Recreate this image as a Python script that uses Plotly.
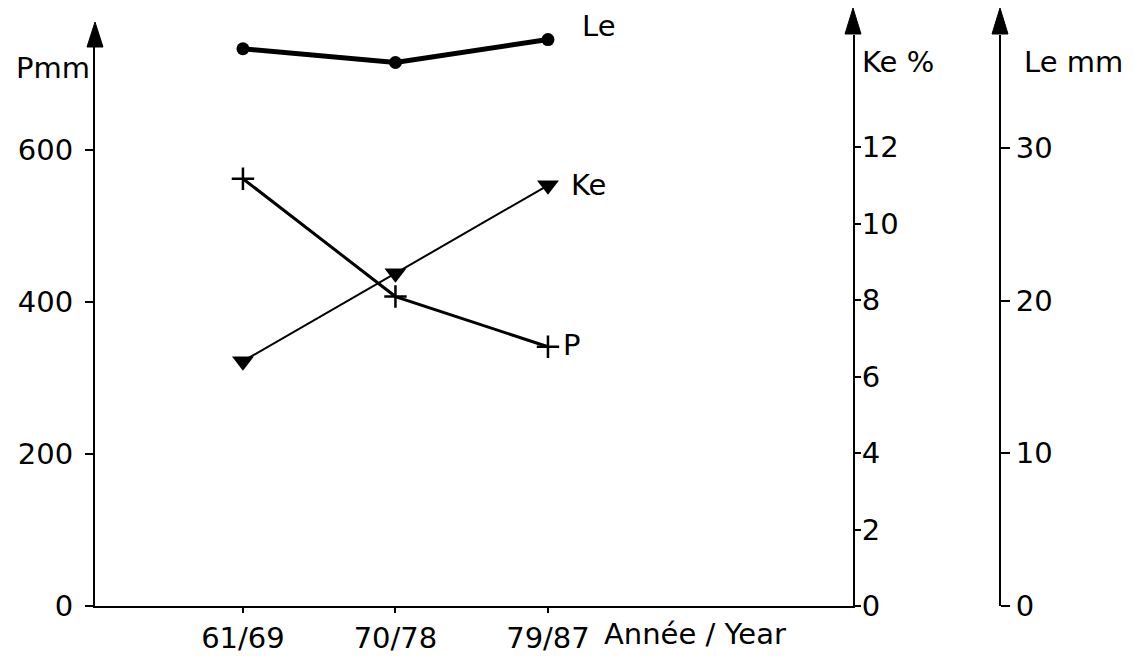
import plotly.graph_objects as go

# ---- data ----
periods = ["61/69", "70/78", "79/87"]
x_pos = [0, 1, 2]
P_mm = [562, 407, 341]
Ke_pct = [6.4, 8.7, 11.0]
Le_mm = [36.5, 35.6, 37.1]

p_ticks = [0, 200, 400, 600]
ke_ticks = [0, 2, 4, 6, 8, 10, 12]
le_ticks = [0, 10, 20, 30]

# ---- layout helpers (pixel -> paper, margins are zero) ----
W, H = 1134, 657
def px(x):
    return x / W
def py(y):
    return 1 - y / H

X_L, X_R, X_LE = 95, 853, 1000
Y_B, Y_T = 606, 35
FONT = dict(family="DejaVu Sans", size=29, color="black")

fig = go.Figure()

fig.add_trace(go.Scatter(
    x=x_pos, y=Le_mm, yaxis="y3", mode="lines+markers",
    line=dict(color="black", width=5),
    marker=dict(symbol="circle", size=13, color="black"),
    cliponaxis=False, showlegend=False))

fig.add_trace(go.Scatter(
    x=x_pos, y=P_mm, yaxis="y", mode="lines+markers",
    line=dict(color="black", width=3),
    marker=dict(symbol="cross-thin", size=16, line=dict(color="black", width=2.5)),
    cliponaxis=False, showlegend=False))

fig.add_trace(go.Scatter(
    x=x_pos, y=Ke_pct, yaxis="y2", mode="lines+markers",
    line=dict(color="black", width=2),
    marker=dict(symbol="triangle-down", size=19, color="black"),
    cliponaxis=False, showlegend=False))

common_y = dict(showgrid=False, zeroline=False, showline=True, linecolor="black",
                linewidth=2, ticks="outside", tickcolor="black", tickwidth=2,
                tickfont=FONT, automargin=False)

fig.update_layout(
    width=W, height=H,
    margin=dict(l=0, r=0, t=0, b=0, autoexpand=False),
    paper_bgcolor="white", plot_bgcolor="white",
    font=FONT,
    xaxis=dict(domain=[px(X_L), px(X_R)], range=[-0.97, 4.0],
               tickvals=x_pos, ticktext=periods, showgrid=False, zeroline=False,
               showline=True, linecolor="black", linewidth=2,
               ticks="outside", ticklen=5, tickwidth=2, tickcolor="black",
               tickfont=FONT, automargin=False),
    yaxis=dict(domain=[py(Y_B), py(Y_T)], range=[0, 751], tickvals=p_ticks,
               ticklen=8, ticklabelstandoff=6, **common_y),
    yaxis2=dict(overlaying="y", side="right", anchor="x", range=[0, 14.93],
                tickvals=ke_ticks, ticklen=6, ticklabelstandoff=-5, **common_y),
    yaxis3=dict(overlaying="y", side="right", anchor="free", position=px(X_LE),
                range=[0, 37.4], tickvals=le_ticks, ticklen=9,
                ticklabelstandoff=0, **common_y),
)

# axis arrowheads
def arrow(x, tip, base, half=8):
    return dict(type="path", xref="paper", yref="paper",
                path=f"M {px(x)} {py(tip)} L {px(x - half)} {py(base)} L {px(x + half)} {py(base)} Z",
                fillcolor="black", line=dict(color="black", width=1))

fig.update_layout(shapes=[arrow(X_L, 22, 47), arrow(X_R, 8, 34), arrow(X_LE, 8, 34)])

ann = []
# axis titles
ann.append(dict(text="Pmm", xref="paper", yref="paper", x=px(92), y=py(68),
                xanchor="right", yanchor="middle", showarrow=False, font=FONT))
ann.append(dict(text="Ke %", xref="paper", yref="paper", x=px(860), y=py(62),
                xanchor="left", yanchor="middle", showarrow=False, font=FONT))
ann.append(dict(text="Le mm", xref="paper", yref="paper", x=px(1022), y=py(62),
                xanchor="left", yanchor="middle", showarrow=False, font=FONT))
ann.append(dict(text="Année / Year", xref="paper", yref="paper", x=px(602), y=py(634),
                xanchor="left", yanchor="middle", showarrow=False, font=FONT))
# series labels
ann.append(dict(text="Le", xref="x", yref="y3", x=x_pos[-1], y=Le_mm[-1],
                xanchor="left", yanchor="middle", xshift=32, yshift=14,
                showarrow=False, font=FONT))
ann.append(dict(text="Ke", xref="x", yref="y2", x=x_pos[-1], y=Ke_pct[-1],
                xanchor="left", yanchor="middle", xshift=21, yshift=0,
                showarrow=False, font=FONT))
ann.append(dict(text="P", xref="x", yref="y", x=x_pos[-1], y=P_mm[-1],
                xanchor="left", yanchor="middle", xshift=13, yshift=2,
                showarrow=False, font=FONT))
fig.update_layout(annotations=ann)

fig.write_html("out.html")
